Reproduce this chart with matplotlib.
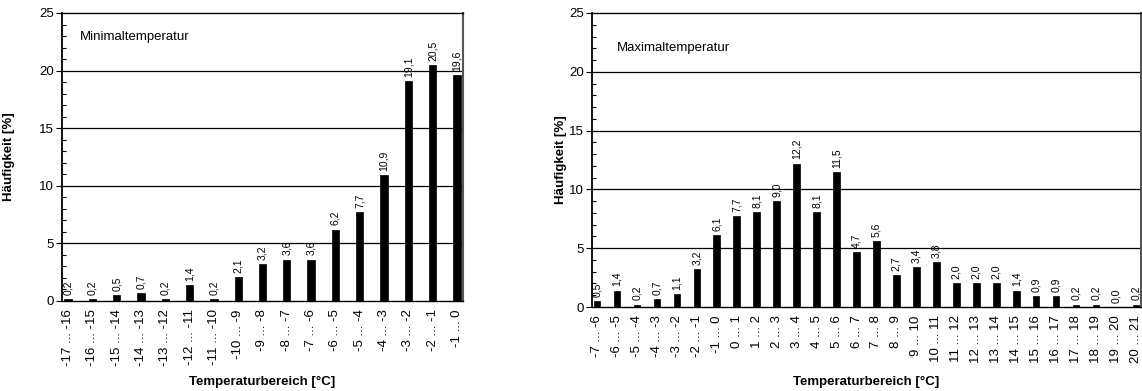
import matplotlib
matplotlib.use("Agg")
import matplotlib.pyplot as plt
from matplotlib.ticker import MultipleLocator

plt.rcParams['font.family'] = ['Liberation Sans', 'DejaVu Sans']

# Minimaltemperatur: Klassen und Häufigkeiten [%]
min_labels = ["-17 ... -16", "-16 ... -15", "-15 ... -14", "-14 ... -13", "-13 ... -12",
              "-12 ... -11", "-11 ... -10", "-10 ... -9", "-9 ... -8", "-8 ... -7",
              "-7 ... -6", "-6 ... -5", "-5 ... -4", "-4 ... -3", "-3 ... -2",
              "-2 ... -1", "-1 ... 0"]
min_values = [0.2, 0.2, 0.5, 0.7, 0.2, 1.4, 0.2, 2.1, 3.2, 3.6, 3.6, 6.2, 7.7,
              10.9, 19.1, 20.5, 19.6]

# Maximaltemperatur
max_labels = ["-7 ... -6", "-6 ... -5", "-5 ... -4", "-4 ... -3", "-3 ... -2",
              "-2 ... -1", "-1 ... 0", "0 ... 1", "1 ... 2", "2 ... 3", "3 ... 4",
              "4 ... 5", "5 ... 6", "6 ... 7", "7 ... 8", "8 ... 9", "9 ... 10",
              "10 ... 11", "11 ... 12", "12 ... 13", "13 ... 14", "14 ... 15",
              "15 ... 16", "16 ... 17", "17 ... 18", "18 ... 19", "19 ... 20",
              "20 ... 21"]
max_values = [0.5, 1.4, 0.2, 0.7, 1.1, 3.2, 6.1, 7.7, 8.1, 9.0, 12.2, 8.1, 11.5,
              4.7, 5.6, 2.7, 3.4, 3.8, 2.0, 2.0, 2.0, 1.4, 0.9, 0.9, 0.2, 0.2,
              0.0, 0.2]

fig = plt.figure(figsize=(11.42, 3.91), dpi=100)
ax1 = fig.add_axes([0.0543, 0.2302, 0.3511, 0.7366])
ax2 = fig.add_axes([0.5184, 0.2148, 0.4807, 0.7520])


def draw(ax, labels, values, width, title, title_y, ylab_x, xlab_y):
    x = range(len(values))
    ax.bar(x, values, width=width, color='black', edgecolor='black', linewidth=0.5, zorder=3)
    for xi, v in zip(x, values):
        ax.annotate(f"{v:.1f}".replace('.', ','), (xi, v), xytext=(0, 3),
                    textcoords='offset points', rotation=90, ha='center', va='bottom',
                    fontsize=7.5, zorder=4)
    ax.set_xlim(-0.25, len(values) - 0.75)
    ax.set_ylim(0, 25)
    ax.yaxis.set_major_locator(MultipleLocator(5))
    ax.yaxis.set_minor_locator(MultipleLocator(1))
    ax.tick_params(axis='y', which='major', direction='out', length=4, width=0.8,
                   labelsize=9.5, pad=2)
    ax.tick_params(axis='y', which='minor', direction='in', length=3, width=0.8)
    ax.set_xticks(list(x))
    ax.set_xticklabels(labels, rotation=90, fontsize=9.5)
    ax.tick_params(axis='x', length=0, pad=6)
    for y in (5, 10, 15, 20):
        ax.axhline(y, color='black', linewidth=0.9, zorder=1)
    for s in ax.spines.values():
        s.set_color('black')
        s.set_linewidth(1.0)
    ax.spines['left'].set_linewidth(1.3)
    ax.spines['right'].set_color('#555555')
    ax.spines['right'].set_linewidth(1.5)
    ax.text(0.045, title_y, title, transform=ax.transAxes, fontsize=9.5,
            ha='left', va='center')
    ax.set_ylabel('Häufigkeit [%]', fontsize=9.5, fontweight='bold')
    ax.yaxis.set_label_coords(ylab_x, 0.5)
    ax.set_xlabel('Temperaturbereich [°C]', fontsize=9.5, fontweight='bold')
    ax.xaxis.set_label_coords(0.5, xlab_y)


draw(ax1, min_labels, min_values, 0.3, 'Minimaltemperatur', 0.915, -0.117, -0.26)
draw(ax2, max_labels, max_values, 0.33, 'Maximaltemperatur', 0.88, -0.045, -0.235)

fig.savefig('out.png', dpi=100)
